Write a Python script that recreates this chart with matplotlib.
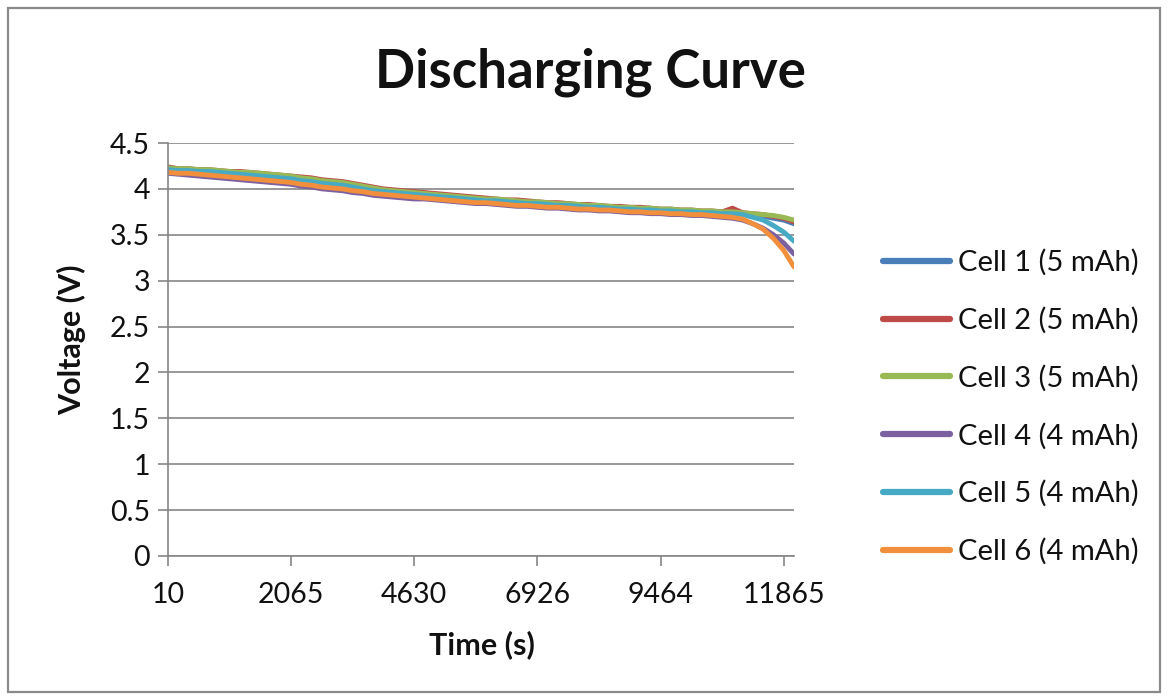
import numpy as np
import matplotlib
matplotlib.use("Agg")
import matplotlib.pyplot as plt
from matplotlib.patches import Rectangle

# x axis is a category axis: one label every 12 samples
time_labels = ["10", "2065", "4630", "6926", "9464", "11865"]
label_step = 12

cell1 = [4.22, 4.21, 4.21, 4.20, 4.20, 4.19, 4.18, 4.17, 4.17, 4.16,
         4.15, 4.14, 4.13, 4.11, 4.10, 4.08, 4.07, 4.06, 4.04, 4.02,
         4.00, 3.98, 3.97, 3.96, 3.95, 3.94, 3.93, 3.92, 3.91, 3.90,
         3.89, 3.88, 3.88, 3.87, 3.86, 3.85, 3.85, 3.84, 3.83, 3.83,
         3.82, 3.81, 3.81, 3.80, 3.79, 3.79, 3.78, 3.78, 3.77, 3.77,
         3.76, 3.76, 3.75, 3.75, 3.74, 3.74, 3.73, 3.72, 3.70, 3.68,
         3.66, 3.62]
cell2 = [4.24, 4.22, 4.22, 4.21, 4.21, 4.20, 4.19, 4.19, 4.18, 4.17,
         4.16, 4.15, 4.14, 4.13, 4.12, 4.10, 4.09, 4.08, 4.06, 4.04,
         4.02, 4.00, 3.99, 3.98, 3.97, 3.96, 3.95, 3.94, 3.93, 3.92,
         3.91, 3.90, 3.89, 3.88, 3.88, 3.87, 3.86, 3.85, 3.85, 3.84,
         3.83, 3.83, 3.82, 3.81, 3.81, 3.80, 3.80, 3.79, 3.78, 3.78,
         3.77, 3.77, 3.76, 3.76, 3.75, 3.79, 3.74, 3.73, 3.72, 3.70,
         3.68, 3.64]
cell3 = [4.23, 4.22, 4.22, 4.21, 4.21, 4.20, 4.19, 4.18, 4.18, 4.17,
         4.16, 4.15, 4.14, 4.12, 4.11, 4.09, 4.08, 4.07, 4.05, 4.03,
         4.01, 3.99, 3.98, 3.97, 3.96, 3.95, 3.94, 3.93, 3.92, 3.91,
         3.90, 3.89, 3.89, 3.88, 3.87, 3.86, 3.86, 3.85, 3.84, 3.84,
         3.83, 3.82, 3.82, 3.81, 3.80, 3.80, 3.79, 3.79, 3.78, 3.78,
         3.77, 3.77, 3.76, 3.76, 3.75, 3.75, 3.74, 3.73, 3.72, 3.71,
         3.69, 3.66]
cell4 = [4.17, 4.16, 4.15, 4.14, 4.13, 4.12, 4.11, 4.10, 4.09, 4.08,
         4.07, 4.06, 4.05, 4.03, 4.02, 4.00, 3.99, 3.98, 3.96, 3.95,
         3.93, 3.92, 3.91, 3.90, 3.89, 3.89, 3.88, 3.87, 3.86, 3.85,
         3.84, 3.84, 3.83, 3.82, 3.81, 3.81, 3.80, 3.79, 3.79, 3.78,
         3.77, 3.77, 3.76, 3.76, 3.75, 3.74, 3.74, 3.73, 3.73, 3.72,
         3.72, 3.71, 3.71, 3.70, 3.69, 3.68, 3.66, 3.62, 3.57, 3.50,
         3.41, 3.29]
cell5 = [4.21, 4.20, 4.20, 4.19, 4.19, 4.18, 4.17, 4.16, 4.15, 4.14,
         4.13, 4.12, 4.11, 4.09, 4.08, 4.06, 4.05, 4.04, 4.02, 4.00,
         3.98, 3.97, 3.96, 3.95, 3.94, 3.93, 3.92, 3.91, 3.90, 3.89,
         3.88, 3.87, 3.87, 3.86, 3.85, 3.84, 3.84, 3.83, 3.82, 3.82,
         3.81, 3.80, 3.80, 3.79, 3.78, 3.78, 3.77, 3.77, 3.76, 3.76,
         3.75, 3.75, 3.74, 3.74, 3.73, 3.73, 3.72, 3.69, 3.66, 3.60,
         3.53, 3.43]
cell6 = [4.18, 4.17, 4.17, 4.16, 4.15, 4.14, 4.13, 4.12, 4.11, 4.10,
         4.09, 4.08, 4.07, 4.05, 4.04, 4.02, 4.01, 4.00, 3.98, 3.97,
         3.95, 3.94, 3.93, 3.92, 3.91, 3.90, 3.89, 3.88, 3.87, 3.86,
         3.85, 3.85, 3.84, 3.83, 3.82, 3.82, 3.81, 3.80, 3.80, 3.79,
         3.78, 3.78, 3.77, 3.77, 3.76, 3.75, 3.75, 3.74, 3.74, 3.73,
         3.73, 3.72, 3.72, 3.71, 3.70, 3.69, 3.67, 3.62, 3.56, 3.46,
         3.33, 3.15]

names = ["Cell 1 (5 mAh)", "Cell 2 (5 mAh)", "Cell 3 (5 mAh)",
         "Cell 4 (4 mAh)", "Cell 5 (4 mAh)", "Cell 6 (4 mAh)"]
series = [cell1, cell2, cell3, cell4, cell5, cell6]
colors = ["#4A7EBB", "#BE4B48", "#98B954", "#7D60A0", "#46AAC5", "#F28F3C"]

font = "Lato"
grid_col = "#868686"
text_col = "#111111"

fig = plt.figure(figsize=(11.69, 7.0), dpi=100)
ax = fig.add_axes([168/1169, 1-556/700, (794-168)/1169, (556-143)/700])

# outer chart border
fig.patches.append(Rectangle((8/1169, 8/700), 1152/1169, 684/700,
                             transform=fig.transFigure, fill=False,
                             edgecolor="#8a8a8a", linewidth=1.6))

for vals, name, col in zip(series, names, colors):
    x = np.arange(len(vals))
    ax.plot(x, vals, color=col, linewidth=3.5, label=name,
            solid_capstyle="round", solid_joinstyle="round")

n = len(cell1)
ax.set_xlim(0, n - 1)
ax.set_ylim(0, 4.5)
ax.set_yticks(np.arange(0, 4.51, 0.5))
ax.set_yticklabels(["0", "0.5", "1", "1.5", "2", "2.5", "3", "3.5", "4", "4.5"])
ax.set_xticks(np.arange(0, n, label_step)[:len(time_labels)])
ax.set_xticklabels(time_labels)

ax.grid(axis="y", color=grid_col, linewidth=1.2)
ax.set_axisbelow(True)
for s in ["top", "right"]:
    ax.spines[s].set_visible(False)
for s in ["left", "bottom"]:
    ax.spines[s].set_color(grid_col)
    ax.spines[s].set_linewidth(1.2)
ax.tick_params(axis="both", colors=grid_col, length=7, width=1.2,
               labelcolor=text_col, labelsize=20.5)
ax.tick_params(axis="x", pad=12)
ax.tick_params(axis="y", pad=6)
for lab in ax.get_xticklabels() + ax.get_yticklabels():
    lab.set_fontfamily(font)

fig.text(590/1169, 1-72/700, "Discharging Curve", ha="center", va="center",
         fontsize=38, fontweight="bold", family=font, color=text_col)
fig.text(72/1169, 1-340/700, "Voltage (V)", ha="center", va="center",
         rotation=90, fontsize=22, fontweight="bold", family=font,
         color=text_col)
fig.text(482/1169, 1-645/700, "Time (s)", ha="center", va="center",
         fontsize=22, fontweight="bold", family=font, color=text_col)

leg = ax.legend(loc="center left", bbox_to_anchor=(857/1169, 1-407/700),
                bbox_transform=fig.transFigure, frameon=False,
                prop={"family": font, "size": 21}, handlelength=2.3,
                handletextpad=0.25, labelspacing=1.06)
for line in leg.get_lines():
    line.set_linewidth(4.5)
for t in leg.get_texts():
    t.set_color(text_col)

fig.savefig("out.png", dpi=100)
